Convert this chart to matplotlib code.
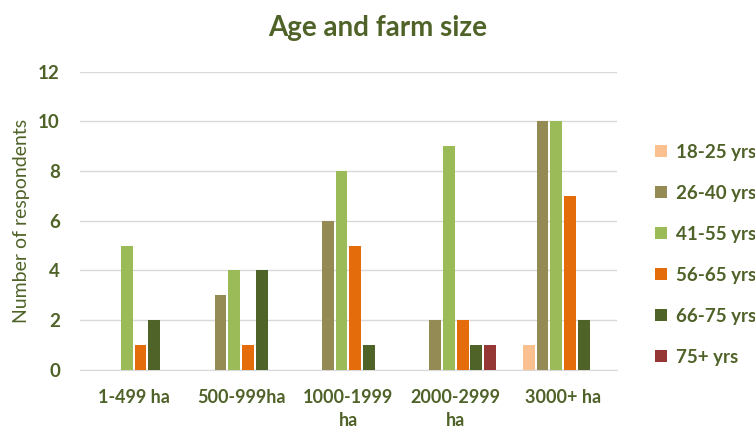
import numpy as np
import matplotlib
matplotlib.use("Agg")
import matplotlib.pyplot as plt

# farm size categories and respondents per age group
farm_sizes = ["1-499 ha", "500-999ha", "1000-1999\nha", "2000-2999\nha", "3000+ ha"]
age_groups = ["18-25 yrs", "26-40 yrs", "41-55 yrs", "56-65 yrs", "66-75 yrs", "75+ yrs"]
age_18_25 = [0, 0, 0, 0, 1]
age_26_40 = [0, 3, 6, 2, 10]
age_41_55 = [5, 4, 8, 9, 10]
age_56_65 = [1, 1, 5, 2, 7]
age_66_75 = [2, 4, 1, 1, 2]
age_75_up = [0, 0, 0, 1, 0]
series = [age_18_25, age_26_40, age_41_55, age_56_65, age_66_75, age_75_up]
colors = ["#FAC090", "#948A54", "#9BBB59", "#E46C0A", "#4F6228", "#953735"]
text_col = "#4F6228"

plt.rcParams['font.family'] = ['Lato', 'DejaVu Sans']

fig = plt.figure(figsize=(7.55, 4.30), dpi=100)
ax = fig.add_axes([0.106, 0.14, 0.711, 0.693])

x = np.arange(len(farm_sizes))
slot = 0.128
for i, (vals, name) in enumerate(zip(series, age_groups)):
    ax.bar(x + (i - 2.5) * slot, vals, width=slot * 0.86, color=colors[i],
           label=name, zorder=3)

ax.set_ylim(0, 12)
ax.set_xlim(-0.5, len(farm_sizes) - 0.5)
ax.set_yticks(range(0, 13, 2))
ax.grid(axis='y', color='#D9D9D9', linewidth=1, zorder=0)
for s in ['top', 'right', 'left']:
    ax.spines[s].set_visible(False)
ax.spines['bottom'].set_color('#D9D9D9')
ax.tick_params(axis='both', length=0, colors=text_col)
ax.tick_params(axis='y', pad=14.5, labelsize=13.5)
ax.tick_params(axis='x', pad=14, labelsize=13)
ax.set_xticks(x)
ax.set_xticklabels(farm_sizes, fontweight='bold', linespacing=1.4, va='top')
for lab in ax.get_yticklabels():
    lab.set_fontweight('bold')
ax.set_ylabel("Number of respondents", color=text_col, fontsize=14, labelpad=0)
ax.yaxis.set_label_coords(-0.093, 0.5)

fig.suptitle("Age and farm size", x=0.5, y=0.965, fontsize=20, fontweight='bold',
             color=text_col)

leg = ax.legend(loc='upper left', bbox_to_anchor=(1.04, 0.815), frameon=False,
                handlelength=0.65, handleheight=0.65, handletextpad=0.45,
                labelspacing=1.28, prop={'weight': 'bold', 'size': 13.5})
for t in leg.get_texts():
    t.set_color(text_col)

fig.savefig("out.png", dpi=100)
